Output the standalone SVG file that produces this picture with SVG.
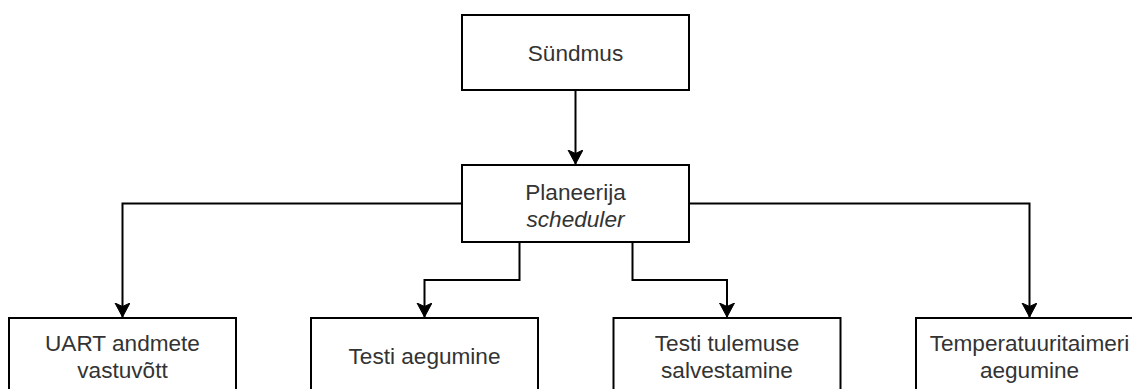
<svg xmlns="http://www.w3.org/2000/svg" width="1132" height="389" viewBox="0 0 1132 389">
<style>
.box{fill:#ffffff;stroke:#000000;stroke-width:2}
.lbl{font-family:"Liberation Sans",Arial,sans-serif;font-size:22.6px;fill:#333333;text-anchor:middle}
.edge{fill:none;stroke:#000000;stroke-width:2}
</style>
<defs>
<marker id="arr" markerUnits="userSpaceOnUse" markerWidth="16" markerHeight="16" refX="14" refY="7.5" orient="auto">
<path d="M0,0 L14,7.5 L0,15 L3.5,7.5 Z" fill="#000000" stroke="#000000" stroke-width="1"/>
</marker>
</defs>
<rect width="1132" height="389" fill="#ffffff"/>
<g id="connectors">
<path class="edge" d="M575.5,90 L575.5,164" marker-end="url(#arr)"/>
<path class="edge" d="M462,203.5 L122.5,203.5 L122.5,317" marker-end="url(#arr)"/>
<path class="edge" d="M519.5,242 L519.5,280 L424.5,280 L424.5,317" marker-end="url(#arr)"/>
<path class="edge" d="M632.5,242 L632.5,280 L727,280 L727,317" marker-end="url(#arr)"/>
<path class="edge" d="M689,203.5 L1029.5,203.5 L1029.5,317" marker-end="url(#arr)"/>
</g>
<g id="sundmus">
<rect class="box" x="462" y="15" width="227" height="75"/>
<text class="lbl" x="575.5" y="60.5">Sündmus</text>
</g>
<g id="planeerija">
<rect class="box" x="462" y="165" width="227" height="77"/>
<text class="lbl" x="575.5" y="199.5">Planeerija</text>
<text class="lbl" x="575.5" y="226.5" font-style="italic">scheduler</text>
</g>
<g id="uart">
<rect class="box" x="9" y="318" width="227" height="76"/>
<text class="lbl" x="122.5" y="351">UART andmete</text>
<text class="lbl" x="122.5" y="378">vastuvõtt</text>
</g>
<g id="testi-aegumine">
<rect class="box" x="311" y="318" width="227" height="76"/>
<text class="lbl" x="424.5" y="364">Testi aegumine</text>
</g>
<g id="testi-tulemuse">
<rect class="box" x="613.5" y="318" width="227" height="76"/>
<text class="lbl" x="727" y="351">Testi tulemuse</text>
<text class="lbl" x="727" y="378">salvestamine</text>
</g>
<g id="temperatuur">
<rect class="box" x="916" y="318" width="227" height="76"/>
<text class="lbl" x="1029.5" y="351">Temperatuuritaimeri</text>
<text class="lbl" x="1029.5" y="378">aegumine</text>
</g>
</svg>
